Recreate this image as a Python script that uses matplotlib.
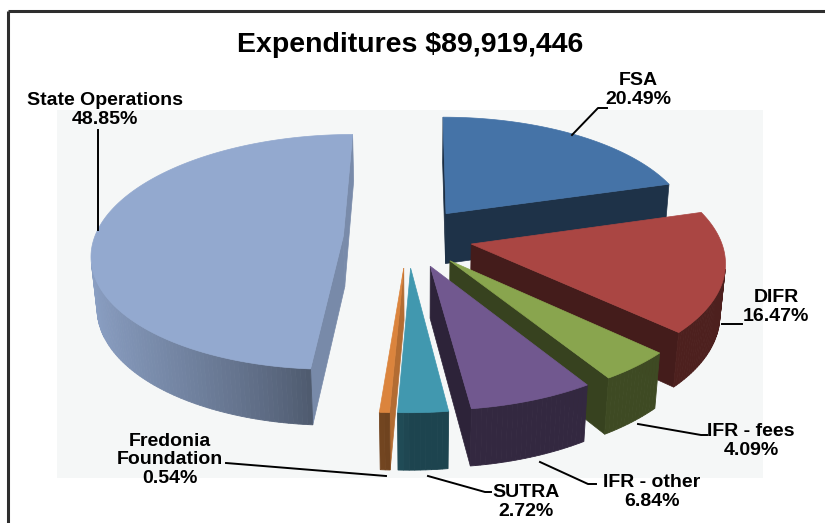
"""
Expenditures 3D exploded pie, drawn with a small perspective projection.
"""

import numpy as np
import matplotlib.pyplot as plt
from matplotlib.patches import Polygon, Rectangle
from matplotlib.colors import to_rgb

# ── data ─────────────────────────────────────────────────────
categories = ["FSA", "DIFR", "IFR - fees", "IFR - other", "SUTRA",
              "Fredonia\nFoundation", "State Operations"]
shares = [20.49, 16.47, 4.09, 6.84, 2.72, 0.54, 48.85]
pct_labels = ["20.49%", "16.47%", "4.09%", "6.84%", "2.72%", "0.54%", "48.85%"]
total = "$89,919,446"

top_colors = ["#4573A7", "#AA4643", "#89A54E", "#71588F", "#4198AF",
              "#DB843D", "#93A9CF"]

# ── 3D view settings ────────────────────────────────────────
explode = 0.26
height = 0.235
phi = np.radians(29.5)
dist = 6.5
cam_x = 0.05
cam = np.array([cam_x, -dist * np.cos(phi), dist * np.sin(phi)])
fwd = np.array([0.0, np.cos(phi), -np.sin(phi)])
up = np.array([0.0, np.sin(phi), np.cos(phi)])


def project(P):
    v = np.atleast_2d(P) - cam
    depth = v @ fwd
    return v[:, 0] / depth, (v @ up) / depth


bounds = np.concatenate([[0], np.cumsum(shares)]) / 100 * 360
mids = np.radians(0.5 * (bounds[:-1] + bounds[1:]))

# calibrate to pixels: leftmost point of the big slice and rightmost of DIFR
left_px, right_px, cy_px = 95, 722, 237
m_left, m_right = mids[6], mids[1]
xl, _ = project(np.array([explode * np.sin(m_left) - 1, explode * np.cos(m_left), height]))
xr, _ = project(np.array([explode * np.sin(m_right) + 1, explode * np.cos(m_right), height]))
scale = (right_px - left_px) / (xr[0] - xl[0])
_, y0 = project(np.array([0, 0, height]))


def to_px(P):
    xs, ys = project(P)
    return np.column_stack([left_px + (xs - xl[0]) * scale,
                            cy_px - (ys - y0[0]) * scale])


def shade(color, f):
    return tuple(np.clip(np.array(to_rgb(color)) * f, 0, 1))


def visible(normal, point):
    return np.dot(normal, cam - point) > 0


fig = plt.figure(figsize=(8.25, 5.23), dpi=100)
ax = fig.add_axes([0, 0, 1, 1])
ax.set_xlim(0, 825)
ax.set_ylim(523, 0)
ax.axis("off")

# plot area and outer frame
ax.add_patch(Rectangle((57, 110), 706, 368, facecolor="#F5F7F7",
                       edgecolor="none", zorder=0))
ax.plot([8, 825], [11, 11], color="#2E2E2E", lw=2.2, solid_capstyle="butt", zorder=1)
ax.plot([8, 8], [11, 523], color="#2E2E2E", lw=2.2, solid_capstyle="butt", zorder=1)

# ── slices ──────────────────────────────────────────────────
slices = []
for i, col in enumerate(top_colors):
    t1, t2 = np.radians(bounds[i]), np.radians(bounds[i + 1])
    tm = mids[i]
    c = np.array([explode * np.sin(tm), explode * np.cos(tm), 0.0])
    depth = (c - cam) @ fwd
    slices.append((depth, i, t1, t2, c, col))

slices.sort(key=lambda s: -s[0])
z = 2
for depth, i, t1, t2, c, col in slices:
    n = max(3, int(np.degrees(t2 - t1) / 1.0) + 1)
    th = np.linspace(t1, t2, n)
    rim = np.column_stack([c[0] + np.sin(th), c[1] + np.cos(th), np.zeros(n)])
    rim_top = rim + [0, 0, height]
    c_top = c + [0, 0, height]

    # radial walls
    for t, nrm in ((t1, np.array([-np.cos(t1), np.sin(t1), 0])),
                   (t2, np.array([np.cos(t2), -np.sin(t2), 0]))):
        p = np.array([c[0] + np.sin(t), c[1] + np.cos(t), 0])
        quad = np.array([c_top, p + [0, 0, height], p, c])
        if visible(nrm, quad.mean(axis=0)):
            fc = shade(col, 0.4 + 0.42 * max(0.0, nrm[0]) ** 2)
            ax.add_patch(Polygon(to_px(quad), closed=True, facecolor=fc,
                                 edgecolor=fc, lw=0.5, zorder=z))
    # outer curved wall
    for k in range(n - 1):
        tmid = 0.5 * (th[k] + th[k + 1])
        quad = np.array([rim_top[k], rim_top[k + 1], rim[k + 1], rim[k]])
        nrm = np.array([np.sin(tmid), np.cos(tmid), 0])
        if visible(nrm, quad.mean(axis=0)):
            f = 0.45 + 0.5 * max(0.0, -np.sin(tmid)) ** 0.7
            fc = shade(col, f)
            ax.add_patch(Polygon(to_px(quad), closed=True, facecolor=fc,
                                 edgecolor=fc, lw=0.6, zorder=z))
    # top face
    top = np.vstack([c_top, rim_top])
    ax.add_patch(Polygon(to_px(top), closed=True, facecolor=col,
                         edgecolor=col, lw=0.5, zorder=z + 0.5))
    z += 1

# ── text ────────────────────────────────────────────────────
font = "Liberation Sans"
ax.text(410, 45, f"Expenditures {total}", ha="center", va="center",
        fontsize=20.5, fontweight="bold", family=font, zorder=20)

label_pos = [(638, 90), (776, 307), (751, 441), (652, 492), (526, 502),
             (170, 460), (105, 110)]
for name, pct, (lx, ly) in zip(categories, pct_labels, label_pos):
    ax.text(lx, ly, f"{name}\n{pct}", ha="center", va="center",
            multialignment="center", fontsize=14, fontweight="bold",
            family=font, linespacing=1.12, zorder=20)

leaders = [
    [(607, 108), (598, 108), (572, 135)],
    [(742, 324), (722, 324)],
    [(707, 435), (701, 435), (638, 424)],
    [(596, 484), (588, 484), (540, 462)],
    [(491, 492), (485, 492), (428, 476)],
    [(226, 463), (386, 476)],
    [(98, 130), (98, 230)],
]
for pts in leaders:
    xs, ys = zip(*pts)
    ax.plot(xs, ys, color="black", lw=1.4, zorder=21)

plt.savefig("out.png", dpi=100)
